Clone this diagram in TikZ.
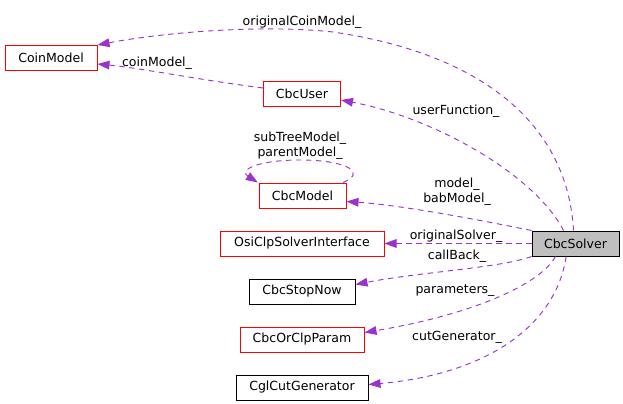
\documentclass[tikz,border=0pt]{standalone}
\usepackage{fontspec}
\setmainfont{DejaVu Sans}
\usetikzlibrary{arrows.meta}
\definecolor{edgec}{HTML}{9A32CD}
\definecolor{boxgray}{HTML}{BFBFBF}
\begin{document}
\begin{tikzpicture}[x=0.75pt,y=-0.75pt,
  font=\fontsize{9.4}{11}\selectfont,
  box/.style={draw=black,line width=0.75pt,minimum height=18.75pt,inner sep=0pt,anchor=center},
  redbox/.style={box,draw=red},
  edge/.style={draw=edgec,line width=0.7pt,dash pattern=on 4pt off 3.5pt,
    -{Triangle[length=9pt,width=6.5pt,fill=edgec]}},
  lbl/.style={inner sep=0pt,align=center}]
\useasboundingbox (0,0) rectangle (623,403);
\node[redbox,minimum width=69pt] (coin) at (51,58) {CoinModel};
\node[redbox,minimum width=57.75pt] (user) at (302,94) {CbcUser};
\node[redbox,minimum width=65.25pt] (model) at (302.5,195.5) {CbcModel};
\node[redbox,minimum width=123pt] (osi) at (302,243.5) {OsiClpSolverInterface};
\node[box,fill=boxgray,minimum width=65.25pt] (solver) at (575.5,243.5) {CbcSolver};
\node[box,minimum width=79.5pt] (stop) at (302,291.5) {CbcStopNow};
\node[redbox,minimum width=93pt] (param) at (302,339.5) {CbcOrClpParam};
\node[box,minimum width=99pt] (cgl) at (302,387.5) {CglCutGenerator};
% originalCoinModel_
\draw[edge] ([xshift=-1.5pt]solver.north) .. controls (568,130) and (490,55) .. (333,32)
  .. controls (260,24) and (160,33) .. (coin.north east);
\node[lbl] (l1) at (302,22) {originalCoinModel\_};
% coinModel_
\draw[edge] ([yshift=4.5pt]user.west) .. controls (200,80) and (140,68) .. ([yshift=-4.5pt]coin.east);
\node[lbl] (l2) at (157,63) {coinModel\_};
% userFunction_
\draw[edge] ([xshift=-9pt]solver.north) .. controls (535,175) and (435,118) .. ([yshift=-4.5pt]user.east);
\node[lbl] (l3) at (456,111) {userFunction\_};
% model_ babModel_
\draw[edge] (solver.north west) .. controls (480,220) and (400,205) .. ([yshift=-4.5pt]model.east);
\node[lbl] (l4) at (457,192) {model\_\\babModel\_};
% self loop
\draw[edge] ([xshift=-2.5pt]model.north east) .. controls (368,172) and (345,160) .. (300,160)
  .. controls (258,160) and (238,170) .. ([xshift=-0.5pt]model.north west);
\node[lbl] (l5) at (300,146) {subTreeModel\_\\parentModel\_};
% originalSolver_
\draw[edge] (solver.west) -- (osi.east);
\node[lbl] (l6) at (456,236) {originalSolver\_};
% callBack_
\draw[edge] (solver.south west) .. controls (500,268) and (420,272) .. ([yshift=5.25pt]stop.east);
\node[lbl] (l7) at (457,256) {callBack\_};
% parameters_
\draw[edge] ([xshift=-15pt]solver.south) .. controls (540,285) and (470,315) .. ([yshift=5.25pt]param.east);
\node[lbl] (l8) at (455,291) {parameters\_};
% cutGenerator_
\draw[edge] ([xshift=-7pt]solver.south) .. controls (555,330) and (480,375) .. ([yshift=2.25pt]cgl.east);
\node[lbl] (l9) at (457,337) {cutGenerator\_};
\end{tikzpicture}
\end{document}
